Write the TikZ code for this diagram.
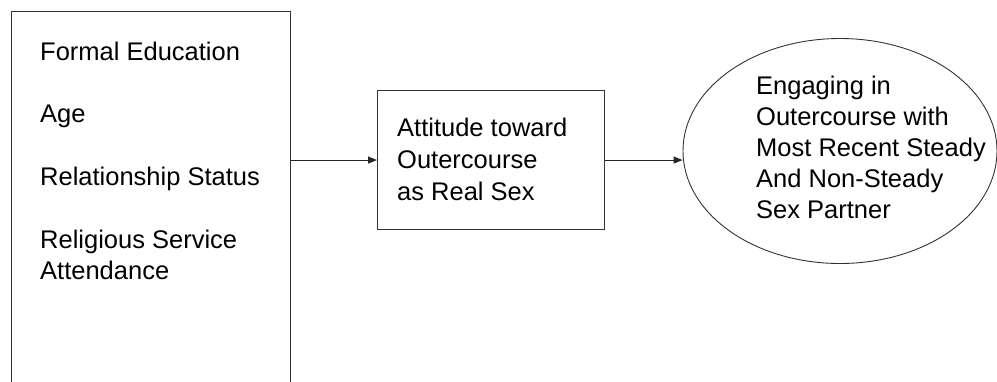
\documentclass[tikz,border=0pt]{standalone}
\usepackage{fontspec}
\setmainfont{Liberation Sans}
\usetikzlibrary{arrows.meta,shapes.geometric}
\begin{document}
\begin{tikzpicture}[x=1pt,y=-1pt,
  frame/.style={draw=black!80,line width=1.1pt,inner sep=0pt},
  lbl/.style={anchor=base west,inner sep=0pt,font=\fontsize{25.5}{31}\selectfont},
  link/.style={draw=black!85,line width=1.1pt,-{Triangle[length=9pt,width=7pt]}}]
\useasboundingbox[fill=white] (0,0) rectangle (997,381);
% boxes
\node[frame,minimum width=279pt,minimum height=400pt,anchor=north west] (factors) at (11,11) {};
\node[frame,minimum width=227pt,minimum height=139pt,anchor=north west] (attitude) at (377,90) {};
\node[frame,ellipse,line width=0.9pt,minimum width=314pt,minimum height=225pt] (outcome) at (840,151) {};
% background factors
\node[lbl] (f1) at (40,60) {Formal Education};
\node[lbl] (f2) at (40,122) {Age};
\node[lbl] (f3) at (40,185) {Relationship Status};
\node[lbl] (f4) at (40,248) {Religious Service};
\node[lbl] (f5) at (40,279) {Attendance};
% mediator
\node[lbl] (a1) at (397,136) {Attitude toward};
\node[lbl] (a2) at (397,168) {Outercourse};
\node[lbl] (a3) at (397,200) {as Real Sex};
% outcome
\node[lbl] (o1) at (756,94) {Engaging in};
\node[lbl] (o2) at (756,125) {Outercourse with};
\node[lbl] (o3) at (756,156) {Most Recent Steady};
\node[lbl] (o4) at (756,187) {And Non-Steady};
\node[lbl] (o5) at (756,218) {Sex Partner};
% connectors
\draw[link] (factors.east |- attitude.west) -- (attitude.west);
\draw[link] (attitude.east) -- (attitude.east -| outcome.west);
\end{tikzpicture}
\end{document}
